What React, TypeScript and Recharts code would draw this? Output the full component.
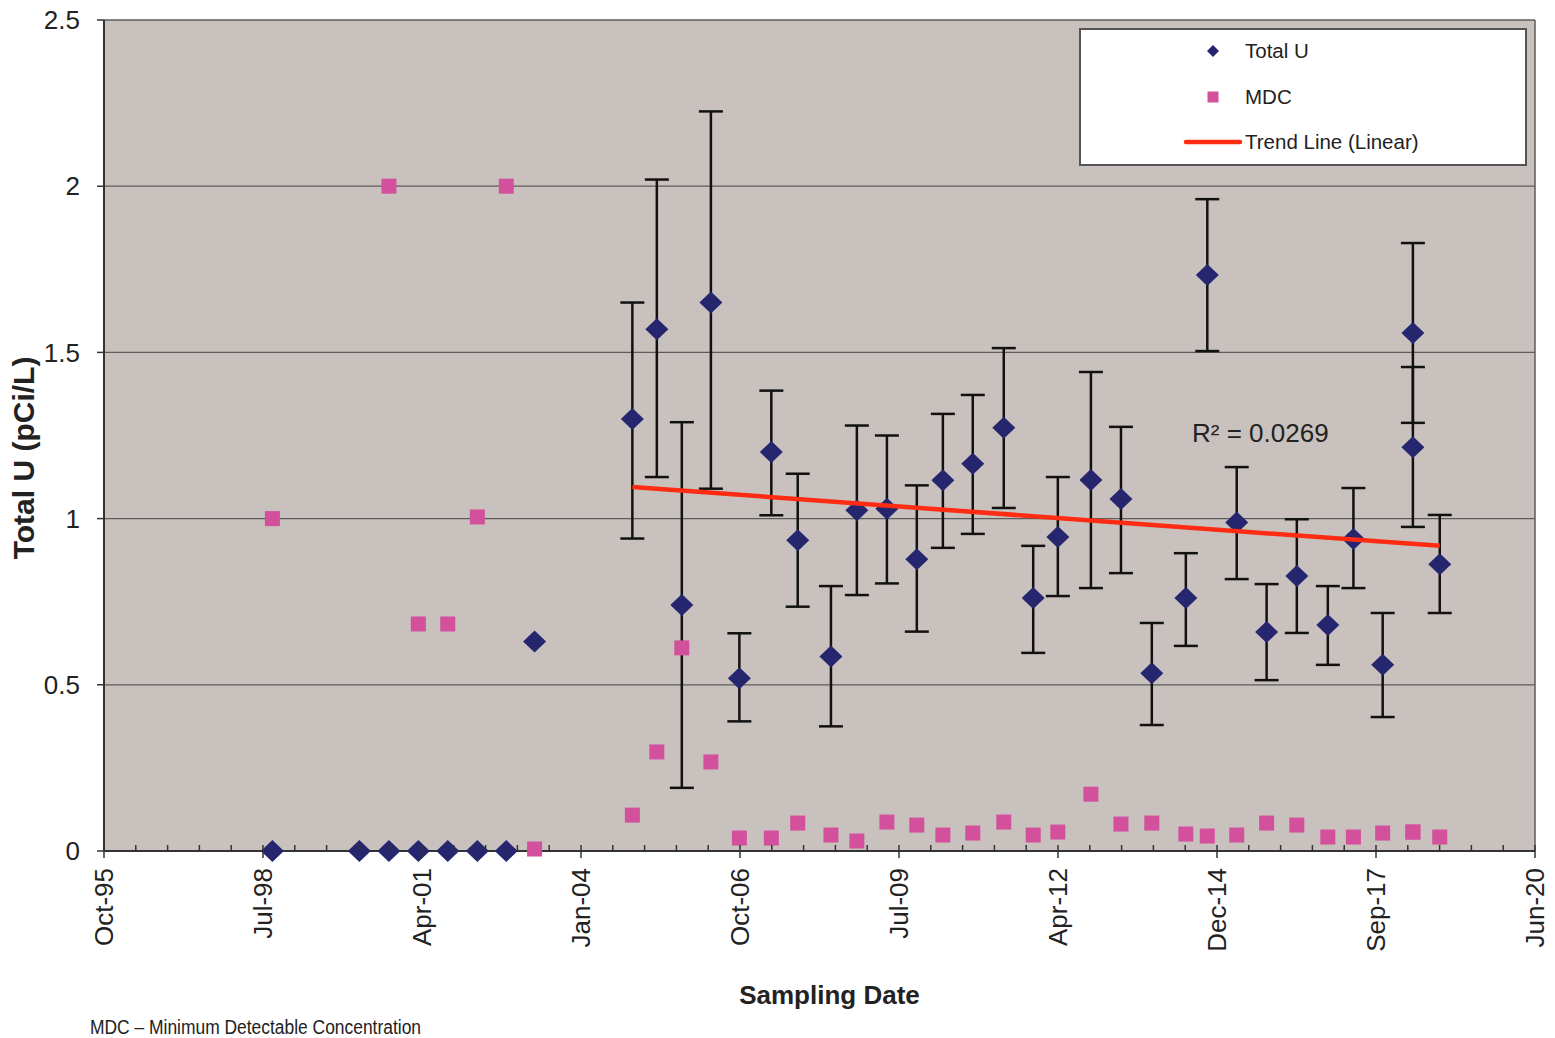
import { ScatterChart, Scatter, XAxis, YAxis, CartesianGrid, ErrorBar, ReferenceLine, Label } from "recharts";

// sampling dates (semi-annual), Total U result with its +/- range, and the MDC
const sampleDates = [
  "1998-09-22", "2000-03-22", "2000-09-24", "2001-03-28", "2001-09-29", "2002-04-03", "2002-10-02",
  "2003-03-29", "2004-12-03", "2005-05-06", "2005-10-10", "2006-04-11", "2006-10-07", "2007-04-26",
  "2007-10-09", "2008-05-05", "2008-10-15", "2009-04-22", "2009-10-27", "2010-04-09", "2010-10-14",
  "2011-04-27", "2011-10-29", "2012-04-01", "2012-10-26", "2013-05-03", "2013-11-13", "2014-06-15",
  "2014-10-28", "2015-05-01", "2015-11-05", "2016-05-13", "2016-11-24", "2017-05-04", "2017-11-04",
  "2018-05-13", "2018-05-13", "2018-10-29",
];
const totalU = [
  0, 0, 0, 0, 0, 0, 0,
  0.63, 1.3, 1.57, 0.74, 1.65, 0.52, 1.2,
  0.935, 0.585, 1.025, 1.03, 0.878, 1.115, 1.165,
  1.273, 0.761, 0.945, 1.116, 1.059, 0.535, 0.761,
  1.733, 0.988, 0.659, 0.827, 0.68, 0.939, 0.56,
  1.558, 1.215, 0.863,
];
const totalULow = [
  null, null, null, null, null, null, null,
  null, 0.94, 1.125, 0.19, 1.09, 0.39, 1.01,
  0.735, 0.375, 0.77, 0.805, 0.66, 0.912, 0.954,
  1.032, 0.596, 0.767, 0.791, 0.836, 0.379, 0.617,
  1.504, 0.818, 0.514, 0.656, 0.56, 0.791, 0.403,
  1.288, 0.975, 0.716,
];
const totalUHigh = [
  null, null, null, null, null, null, null,
  null, 1.65, 2.02, 1.29, 2.225, 0.655, 1.385,
  1.135, 0.797, 1.28, 1.25, 1.1, 1.315, 1.372,
  1.513, 0.918, 1.125, 1.441, 1.276, 0.686, 0.896,
  1.961, 1.155, 0.803, 0.998, 0.797, 1.092, 0.716,
  1.829, 1.456, 1.011,
];
const mdc = [
  1.0, null, 2.0, 0.683, 0.683, 1.005, 2.0,
  0.006, 0.108, 0.298, 0.611, 0.268, 0.039, 0.039,
  0.084, 0.048, 0.03, 0.087, 0.078, 0.048, 0.054,
  0.087, 0.048, 0.057, 0.171, 0.081, 0.084, 0.051,
  0.045, 0.048, 0.084, 0.078, 0.042, 0.042, 0.054,
  0.057, 0.057, 0.042,
];

// linear trend fitted over 2004-2018
const trendDates = ["2004-12-03", "2018-10-29"];
const trendValues = [1.095, 0.918];
const rSquared = "0.0269";

const yTicks = [0, 0.5, 1, 1.5, 2, 2.5];
const MONTHS = ["Jan", "Feb", "Mar", "Apr", "May", "Jun", "Jul", "Aug", "Sep", "Oct", "Nov", "Dec"];

const DAY = 86400000;
const AXIS_START = Date.UTC(1995, 9, 29);
const AXIS_DAYS = 9000;
const MAJOR = 1000;
const MINOR = 200;
const xTicks = Array.from({ length: AXIS_DAYS / MINOR + 1 }, (_, i) => i * MINOR);

const toDay = (iso: string) => (Date.parse(iso) - AXIS_START) / DAY;
const fmtDate = (d: number) => {
  const dt = new Date(AXIS_START + d * DAY);
  return `${MONTHS[dt.getUTCMonth()]}-${String(dt.getUTCFullYear() % 100).padStart(2, "0")}`;
};

const uData = sampleDates.map((d, i) => ({
  day: toDay(d),
  value: totalU[i],
  err: totalULow[i] == null ? null : [totalU[i] - (totalULow[i] as number), (totalUHigh[i] as number) - totalU[i]],
}));
const mdcData = sampleDates
  .map((d, i) => ({ day: toDay(d), value: mdc[i] }))
  .filter((p) => p.value != null);
const trendData = trendDates.map((d, i) => ({ day: toDay(d), value: trendValues[i] }));

const NAVY = "#26266e";
const PINK = "#d3509c";
const RED = "#ff2b12";
const FONT = "'Liberation Sans', Arial, sans-serif";

const Diamond = (props: any) => {
  const { cx, cy } = props;
  return <polygon points={`${cx},${cy - 11} ${cx + 11.5},${cy} ${cx},${cy + 11} ${cx - 11.5},${cy}`} fill={NAVY} />;
};

const Square = (props: any) => {
  const { cx, cy } = props;
  return <rect x={cx - 7.5} y={cy - 7.5} width={15} height={15} fill={PINK} />;
};

const DateTick = (props: any) => {
  const { x, y, payload } = props;
  const v = payload.value;
  if (v % MAJOR !== 0) {
    return <line x1={x} x2={x} y1={y - 6} y2={y} stroke="#333" strokeWidth={1.5} />;
  }
  return (
    <g>
      <line x1={x} x2={x} y1={y - 6} y2={y + 7} stroke="#333" strokeWidth={1.5} />
      <text
        x={x}
        y={y + 17}
        transform={`rotate(-90, ${x}, ${y + 17})`}
        textAnchor="end"
        dy="0.35em"
        fontSize={26}
        fill="#222"
      >
        {fmtDate(v)}
      </text>
    </g>
  );
};

export default function App() {
  return (
    <div style={{ position: "absolute", left: 0, top: 0, width: 1555, height: 1038, fontFamily: FONT, background: "#fff" }}>
      <ScatterChart width={1555} height={1038} margin={{ top: 20, right: 20, bottom: 0, left: 0 }}>
        <CartesianGrid vertical={false} fill="#c9c1be" stroke="#5c5c5c" strokeWidth={1.3} />
        <XAxis
          type="number"
          dataKey="day"
          domain={[0, AXIS_DAYS]}
          ticks={xTicks}
          interval={0}
          height={187}
          tickSize={0}
          tickMargin={0}
          tickLine={false}
          tick={<DateTick />}
          axisLine={{ stroke: "#333", strokeWidth: 2 }}
        >
          <Label
            content={(p: any) => (
              <text x={p.viewBox.x + p.viewBox.width / 2 + 10} y={1004} textAnchor="middle" fontSize={26} fontWeight="bold" fill="#222">
                Sampling Date
              </text>
            )}
          />
        </XAxis>
        <YAxis
          type="number"
          dataKey="value"
          domain={[0, 2.5]}
          ticks={yTicks}
          width={104}
          tickSize={7}
          tickMargin={17}
          tick={{ fontSize: 26, fill: "#222" }}
          tickLine={{ stroke: "#333", strokeWidth: 1.5 }}
          axisLine={{ stroke: "#333", strokeWidth: 2 }}
        >
          <Label
            content={() => (
              <text
                x={34}
                y={458}
                transform="rotate(-90, 34, 458)"
                textAnchor="middle"
                fontSize={30}
                fontWeight="bold"
                fill="#222"
              >
                Total U (pCi/L)
              </text>
            )}
          />
        </YAxis>
        <ReferenceLine x={AXIS_DAYS} stroke="#5c5c5c" strokeWidth={1.5} />
        <Scatter name="Total U" data={uData} shape={<Diamond />} isAnimationActive={false}>
          <ErrorBar dataKey="err" direction="y" width={12} stroke="#111" strokeWidth={2.5} />
        </Scatter>
        <Scatter name="MDC" data={mdcData} shape={<Square />} isAnimationActive={false} />
        <Scatter
          name="Trend Line (Linear)"
          data={trendData}
          line={{ stroke: RED, strokeWidth: 4.5 }}
          shape={() => <g />}
          isAnimationActive={false}
        />
      </ScatterChart>

      <svg width={1555} height={1038} style={{ position: "absolute", left: 0, top: 0, pointerEvents: "none" }}>
        <text x={1192} y={442} fontSize={26} fill="#222">
          R² = {rSquared}
        </text>

        <rect x={1080} y={29} width={446} height={136} fill="#fff" stroke="#555" strokeWidth={2} />
        <polygon points="1213,45 1219,51 1213,57 1207,51" fill={NAVY} />
        <text x={1245} y={51} dy="0.35em" fontSize={20.5} fill="#222">Total U</text>
        <rect x={1207.5} y={91.5} width={11} height={11} fill={PINK} />
        <text x={1245} y={97} dy="0.35em" fontSize={20.5} fill="#222">MDC</text>
        <line x1={1186} x2={1240} y1={142} y2={142} stroke={RED} strokeWidth={4.5} strokeLinecap="round" />
        <text x={1245} y={142} dy="0.35em" fontSize={20.5} fill="#222">Trend Line (Linear)</text>

        {/* narrow footnote: regular face squeezed horizontally */}
        <g transform="translate(90, 1034) scale(0.83, 1)">
          <text x={0} y={0} fontSize={21} fill="#222">
            MDC – Minimum Detectable Concentration
          </text>
        </g>
      </svg>
    </div>
  );
}
